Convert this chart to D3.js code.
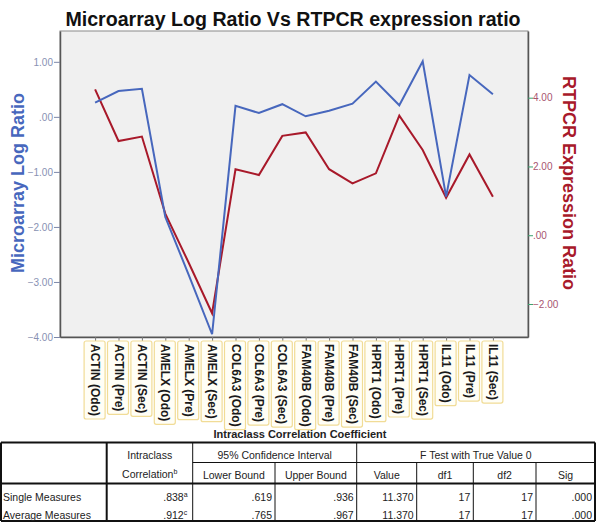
<!DOCTYPE html>
<html lang="en">
<head>
  <meta charset="utf-8" />
  <style>
    body { margin: 0; background: #fff; }
    svg { font-family: "Liberation Sans", Arial, sans-serif; }
  </style>
</head>
<body>
<div id="container"></div>
<script src="https://cdn.jsdelivr.net/npm/d3@7"></script>
<script>

// chart data
const categories = [
  'ACTIN (Odo)', 'ACTIN (Pre)', 'ACTIN (Sec)',
  'AMELX (Odo)', 'AMELX (Pre)', 'AMELX (Sec)',
  'COL6A3 (Odo)', 'COL6A3 (Pre)', 'COL6A3 (Sec)',
  'FAM40B (Odo)', 'FAM40B (Pre)', 'FAM40B (Sec)',
  'HPRT1 (Odo)', 'HPRT1 (Pre)', 'HPRT1 (Sec)',
  'IL11 (Odo)', 'IL11 (Pre)', 'IL11 (Sec)'
];
const microarray = [0.26, 0.47, 0.51, -1.82, -2.87, -3.95, 0.20, 0.07, 0.23, 0.01, 0.11, 0.24, 0.64, 0.21, 1.01, -1.45, 0.76, 0.41];
const rtpcr = [4.24, 2.74, 2.87, 0.63, -0.80, -2.27, 1.92, 1.75, 2.89, 2.99, 1.92, 1.51, 1.80, 3.48, 2.48, 1.09, 2.35, 1.12];
const leftTicks = [1, 0, -1, -2, -3, -4];
const rightTicks = [4, 2, 0, -2];

// table data
const tableRows = ['Single Measures', 'Average Measures'];
const iccValues = ['.838', '.912'];
const iccNotes = ['a', 'c'];
const lowerBound = ['.619', '.765'];
const upperBound = ['.936', '.967'];
const fValues = ['11.370', '11.370'];
const df1 = ['17', '17'];
const df2 = ['17', '17'];
const sig = ['.000', '.000'];

const W = 597, H = 525;
const plot = { left: 60, right: 528, top: 31, bottom: 337 };

const svg = d3.select('#container')
  .append('svg')
  .attr('width', W)
  .attr('height', H);

const x = d3.scalePoint()
  .domain(categories)
  .range([plot.left, plot.right])
  .padding(1.5);

const yL = d3.scaleLinear().domain([-4, 1.56]).range([plot.bottom, plot.top]);
const yR = d3.scaleLinear().domain([-2.96, 5.94]).range([plot.bottom, plot.top]);

const fmt = v => v === 0 ? '.00' : d3.format('.2f')(v);

// title
svg.append('text')
  .attr('x', 293)
  .attr('y', 26)
  .attr('text-anchor', 'middle')
  .attr('font-size', 19.6)
  .attr('font-weight', 'bold')
  .attr('fill', '#111')
  .text('Microarray Log Ratio Vs RTPCR expression ratio');

// plot background
svg.append('rect')
  .attr('x', plot.left)
  .attr('y', plot.top)
  .attr('width', plot.right - plot.left)
  .attr('height', plot.bottom - plot.top)
  .attr('fill', '#f0f0f0')
  .attr('stroke', '#8a8a8a');

// left axis
const gL = svg.append('g')
  .attr('transform', `translate(${plot.left},0)`)
  .call(d3.axisLeft(yL).tickValues(leftTicks).tickFormat(fmt).tickSize(6).tickSizeOuter(0));
gL.select('.domain').attr('stroke', '#555').attr('stroke-width', 1.5);
gL.selectAll('.tick line').attr('stroke', '#7d87a8');
gL.selectAll('.tick text').attr('fill', '#8891b3').attr('font-size', 10).attr('x', -7)
  .attr('font-family', '"Liberation Sans", Arial, sans-serif');

// right axis
const gR = svg.append('g')
  .attr('transform', `translate(${plot.right},0)`)
  .call(d3.axisRight(yR).tickValues(rightTicks).tickFormat(fmt).tickSize(5).tickSizeOuter(0));
gR.select('.domain').attr('stroke', '#555').attr('stroke-width', 1.5);
gR.selectAll('.tick line').attr('stroke', '#3da06e');
gR.selectAll('.tick text').attr('fill', '#a85570').attr('font-size', 10).attr('x', 5)
  .attr('font-family', '"Liberation Sans", Arial, sans-serif');

// bottom axis with boxed, rotated labels
const gB = svg.append('g')
  .attr('transform', `translate(0,${plot.bottom})`)
  .call(d3.axisBottom(x).tickSize(4).tickSizeOuter(0));
gB.select('.domain').attr('stroke', '#555').attr('stroke-width', 1.5);
gB.selectAll('.tick line').attr('stroke', '#777');
gB.selectAll('.tick text')
  .attr('font-size', 12)
  .attr('font-weight', 'bold')
  .attr('font-family', '"Liberation Sans", Arial, sans-serif')
  .attr('fill', '#1a1a1a')
  .attr('text-anchor', 'start')
  .attr('dy', null)
  .attr('transform', 'rotate(90)')
  .attr('x', 7)
  .attr('y', 4.5);
gB.selectAll('.tick').each(function () {
  const t = d3.select(this).select('text');
  const b = t.node().getBBox();
  d3.select(this).insert('rect', 'text')
    .attr('transform', 'rotate(90)')
    .attr('x', b.x - 3)
    .attr('y', b.y - 3)
    .attr('width', b.width + 6)
    .attr('height', b.height + 7)
    .attr('rx', 2)
    .attr('fill', '#fffef6')
    .attr('stroke', '#f1dc96')
    .attr('stroke-width', 1.2);
});

// axis titles
svg.append('text')
  .attr('transform', `translate(24,${183}) rotate(-90)`)
  .attr('text-anchor', 'middle')
  .attr('font-size', 18)
  .attr('font-weight', 'bold')
  .attr('fill', '#4767bd')
  .text('Microarray Log Ratio');

svg.append('text')
  .attr('transform', `translate(563,${183}) rotate(90)`)
  .attr('text-anchor', 'middle')
  .attr('font-size', 18)
  .attr('font-weight', 'bold')
  .attr('fill', '#a8192a')
  .text('RTPCR Expression Ratio');

// lines
const lineL = d3.line().x((d, i) => x(categories[i])).y(d => yL(d));
const lineR = d3.line().x((d, i) => x(categories[i])).y(d => yR(d));

svg.append('path')
  .datum(rtpcr)
  .attr('d', lineR)
  .attr('fill', 'none')
  .attr('stroke', '#a8192a')
  .attr('stroke-width', 2);

svg.append('path')
  .datum(microarray)
  .attr('d', lineL)
  .attr('fill', 'none')
  .attr('stroke', '#4767bd')
  .attr('stroke-width', 2);

// table
const cols = [1, 106.7, 192.7, 275, 356.7, 416.7, 473.3, 536, 595];
const rowsY = { top: 442.5, mid: 462.5, head: 483.5, bottom: 521 };
const tg = svg.append('g').attr('font-size', 10.5).attr('fill', '#222');

tg.append('text')
  .attr('x', 300)
  .attr('y', 438)
  .attr('text-anchor', 'middle')
  .attr('font-weight', 'bold')
  .attr('font-size', 11)
  .text('Intraclass Correlation Coefficient');

const hline = (x1, x2, y, w) => tg.append('line')
  .attr('x1', x1).attr('x2', x2).attr('y1', y).attr('y2', y)
  .attr('stroke', '#111').attr('stroke-width', w);
const vline = (xx, y1, y2, w) => tg.append('line')
  .attr('x1', xx).attr('x2', xx).attr('y1', y1).attr('y2', y2)
  .attr('stroke', '#111').attr('stroke-width', w);

hline(cols[0], cols[8], rowsY.top, 2);
hline(cols[2], cols[8], rowsY.mid, 1);
hline(cols[0], cols[8], rowsY.head, 2);
hline(cols[0], cols[8], rowsY.bottom, 2);
vline(cols[0], rowsY.top, rowsY.bottom, 2);
vline(cols[8], rowsY.top, rowsY.bottom, 2);
vline(cols[1], rowsY.top, rowsY.bottom, 2);
vline(cols[2], rowsY.top, rowsY.bottom, 1);
vline(cols[4], rowsY.top, rowsY.bottom, 1);
[3, 5, 6, 7].forEach(c => vline(cols[c], rowsY.mid, rowsY.bottom, 1));

const mid = (a, b) => (cols[a] + cols[b]) / 2;
const ctext = (xx, yy, s) => tg.append('text').attr('x', xx).attr('y', yy)
  .attr('text-anchor', 'middle').text(s);

ctext(mid(1, 2), 459, 'Intraclass');
const corr = ctext(mid(1, 2), 478, 'Correlation');
corr.append('tspan').attr('font-size', 7).attr('dy', -4).text('b');
ctext(mid(2, 4), 459, '95% Confidence Interval');
ctext(mid(4, 8), 459, 'F Test with True Value 0');
ctext(mid(2, 3), 479, 'Lower Bound');
ctext(mid(3, 4), 479, 'Upper Bound');
ctext(mid(4, 5), 479, 'Value');
ctext(mid(5, 6), 479, 'df1');
ctext(mid(6, 7), 479, 'df2');
ctext(mid(7, 8), 479, 'Sig');

const rowY = [501, 519];
tableRows.forEach((r, i) => {
  const yy = rowY[i];
  tg.append('text').attr('x', 3).attr('y', yy).text(r);
  const rt = (c, s) => tg.append('text').attr('x', cols[c] - 3).attr('y', yy)
    .attr('text-anchor', 'end').text(s);
  tg.append('text').attr('x', cols[2] - 9).attr('y', yy)
    .attr('text-anchor', 'end').text(iccValues[i]);
  tg.append('text').attr('x', cols[2] - 9).attr('y', yy - 4)
    .attr('font-size', 7).text(iccNotes[i]);
  rt(3, lowerBound[i]);
  rt(4, upperBound[i]);
  rt(5, fValues[i]);
  rt(6, df1[i]);
  rt(7, df2[i]);
  rt(8, sig[i]);
});

</script>
</body>
</html>
